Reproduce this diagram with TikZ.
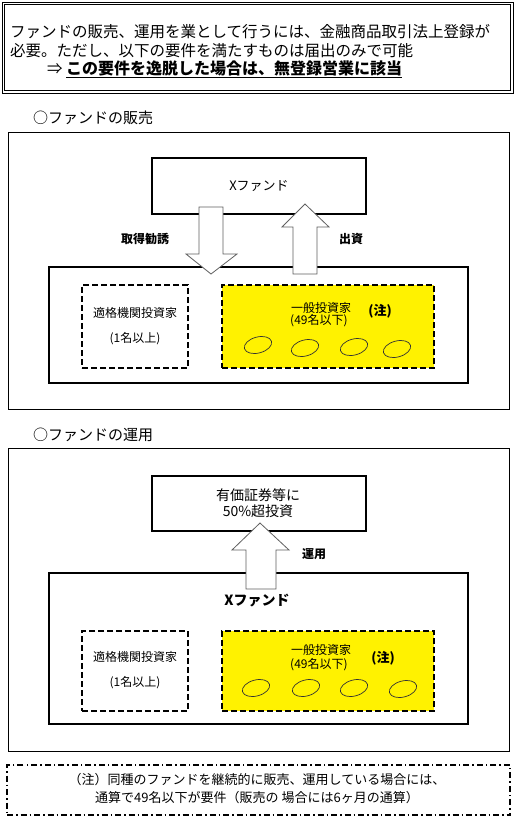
\documentclass[tikz,border=0pt]{standalone}
\usepackage{fontspec}
\setmainfont{Noto Sans CJK JP}
\usetikzlibrary{shapes.geometric}
\begin{document}
\begin{tikzpicture}[x=1pt,y=-1pt,
  thinbox/.style={draw, line width=0.8pt, inner sep=0pt},
  thickbox/.style={draw, line width=1.8pt, inner sep=0pt},
  dbox/.style={draw, line width=1.6pt, dash pattern=on 6pt off 3pt, inner sep=0pt},
  ybox/.style={dbox, fill=yellow},
  blockarrow/.style={draw=gray!75!black, line width=0.8pt, fill=white, line join=miter},
  oval/.style={ellipse, draw=black!80, line width=0.7pt, minimum width=28pt, minimum height=16pt, inner sep=0pt, rotate=15},
  txt/.style={inner sep=0pt, font=\fontsize{12}{14}\selectfont},
  btxt/.style={inner sep=0pt, font=\fontsize{12}{14}\selectfont\bfseries},
  head/.style={inner sep=0pt, anchor=west, font=\fontsize{15.5}{18}\selectfont},
  sect/.style={inner sep=0pt, anchor=west, font=\fontsize{15}{18}\selectfont}
]
\path[fill=white] (0,0) rectangle (514,823);
\useasboundingbox (0,0) rectangle (514,823);

% header
\node[draw, line width=0.8pt, inner sep=0pt, minimum width=511pt, minimum height=91pt] (hb) at (257.5,47.5) {};
\node[draw, line width=0.8pt, inner sep=0pt, minimum width=506pt, minimum height=86pt] (hbi) at (hb) {};
\node[head] (h1) at (10,32) {ファンドの販売、運用を業として行うには、金融商品取引法上登録が};
\node[head] (h2) at (10,51) {必要。ただし、以下の要件を満たすものは届出のみで可能};
\node[head] (h3) at (47,69) {⇒ {\bfseries\fontsize{16}{18}\selectfont\underline{この要件を逸脱した場合は、無登録営業に該当}}};

% ===== section 1 =====
\node[sect] (s1) at (33,118) {○ファンドの販売};
\node[thinbox, minimum width=501pt, minimum height=277pt] (o1) at (258.5,270.5) {};
\node[thickbox, minimum width=214pt, minimum height=56pt] (xf1) at (259,186) {};
\node[txt, font=\fontsize{13}{15}\selectfont] (xf1t) at (xf1) {Xファンド};
\node[thickbox, minimum width=419pt, minimum height=116pt] (in1) at (258.5,325) {};
\node[dbox, minimum width=106pt, minimum height=83pt] (q1) at (135,326.5) {};
\node[ybox, minimum width=212pt, minimum height=83pt] (g1) at (328,326.5) {};
\node[txt] (q1a) at (135,313) {適格機関投資家};
\node[txt] (q1b) at (135,339) {(1名以上)};
\node[txt, anchor=west] (g1a) at (291,308) {一般投資家};
\node[txt, anchor=west] (g1b) at (290,321) {(49名以下)};
\node[btxt, font=\fontsize{13}{15}\selectfont\bfseries] (g1c) at (380,311) {(注)};
\node[oval] (e11) at (258,345) {};
\node[oval] (e12) at (305,348) {};
\node[oval] (e13) at (354,347) {};
\node[oval] (e14) at (397,349) {};
% arrows
\draw[blockarrow] (199,207) -- (223,207) -- (223,254) -- (237,254) -- (211,274) -- (186,254) -- (199,254) -- cycle;
\draw[blockarrow] (305,204) -- (329,227) -- (317,227) -- (317,274) -- (293,274) -- (293,227) -- (282,227) -- cycle;
\node[btxt] (l1) at (145,239) {取得勧誘};
\node[btxt] (l2) at (351,239) {出資};

% ===== section 2 =====
\node[sect] (s2) at (33,435) {○ファンドの運用};
\node[thinbox, minimum width=501pt, minimum height=303pt] (o2) at (258.5,599.5) {};
\node[thickbox, minimum width=214pt, minimum height=55pt] (sec2) at (259,503.5) {};
\node[inner sep=0pt, align=center, font=\fontsize{14}{16}\selectfont] (sec2t) at (258,503) {有価証券等に\\50\%超投資};
\node[thickbox, minimum width=419pt, minimum height=151pt] (in2) at (258.5,648.5) {};
\draw[blockarrow] (260,523) -- (289,550) -- (276,550) -- (276,589) -- (246,589) -- (246,550) -- (232,550) -- cycle;
\node[btxt] (l3) at (314,554) {運用};
\node[btxt, font=\fontsize{14}{16}\selectfont\bfseries] (xf2) at (257,601) {Xファンド};
\node[dbox, minimum width=106pt, minimum height=80pt] (q2) at (135,671) {};
\node[ybox, minimum width=212pt, minimum height=80pt] (g2) at (328,671) {};
\node[txt] (q2a) at (135,657) {適格機関投資家};
\node[txt] (q2b) at (135,683) {(1名以上)};
\node[txt, anchor=west] (g2a) at (291,650) {一般投資家};
\node[txt, anchor=west] (g2b) at (290,665) {(49名以下)};
\node[btxt, font=\fontsize{13}{15}\selectfont\bfseries] (g2c) at (383,658) {(注)};
\node[oval] (e21) at (256,688) {};
\node[oval] (e22) at (306,688) {};
\node[oval] (e23) at (354,688) {};
\node[oval] (e24) at (403,689) {};

% ===== note =====
\node[draw, line width=1.6pt, dash pattern=on 6pt off 3pt on 1.5pt off 3pt, inner sep=0pt,
      minimum width=503pt, minimum height=50pt] (nb) at (258.5,790) {};
\node[inner sep=0pt, align=center, font=\fontsize{13}{18}\selectfont] (nt) at (257,789) {（注）同種のファンドを継続的に販売、運用している場合には、\\通算で49名以下が要件（販売の 場合には6ヶ月の通算）};
\end{tikzpicture}
\end{document}
